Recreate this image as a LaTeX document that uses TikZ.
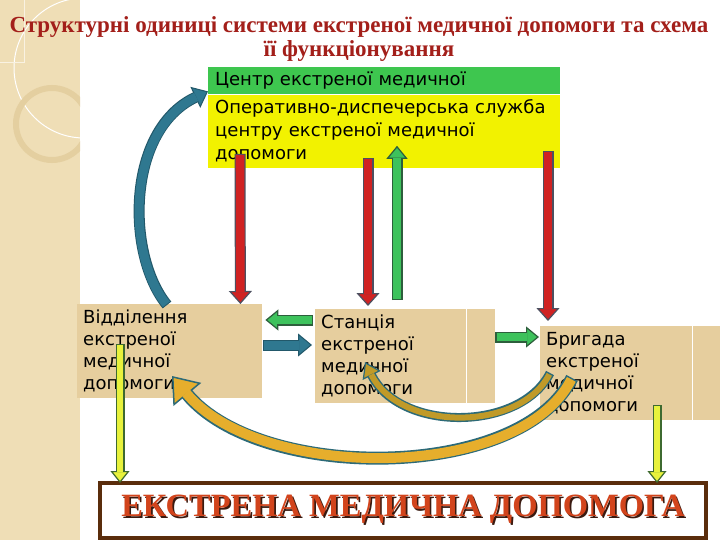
\documentclass[tikz,border=0pt]{standalone}
\usepackage{fontspec}
\setmainfont{DejaVu Sans}
\newfontfamily\titlefont{Liberation Serif}
\usepackage{tikz}
\usetikzlibrary{arrows.meta, positioning}

\definecolor{strip}{HTML}{EFDEB6}
\definecolor{ringc}{HTML}{E4CFA0}
\definecolor{titlered}{HTML}{A31F1A}
\definecolor{hdrgreen}{HTML}{3EC64F}
\definecolor{opsyellow}{HTML}{F2F200}
\definecolor{papyrus}{HTML}{E6CE9E}
\definecolor{redfill}{HTML}{D02222}
\definecolor{redge}{HTML}{4C5060}
\definecolor{greenfill}{HTML}{3DC25C}
\definecolor{greenedge}{HTML}{2D5E3C}
\definecolor{tealfill}{HTML}{2F7890}
\definecolor{tealedge}{HTML}{22586A}
\definecolor{yellowfill}{HTML}{E8F23C}
\definecolor{yellowedge}{HTML}{3E6A30}
\definecolor{goldfill}{HTML}{E6AE2C}
\definecolor{olivefill}{HTML}{C09A28}
\definecolor{goldedge}{HTML}{2C6A78}
\definecolor{emaborder}{HTML}{5A2D0C}
\definecolor{ematext}{HTML}{D2441C}
\definecolor{emashadow}{HTML}{3A1A10}

\tikzstyle{hdr} =
        [
                fill = hdrgreen,
                text width = 338pt,
                inner xsep = 7pt,
                inner ysep = 0pt,
                minimum height = 27pt,
                align = left,
                font = \fontsize{18}{23}\selectfont
        ]
\tikzstyle{ops} =
        [
                hdr,
                fill = opsyellow,
                minimum height = 73pt
        ]
\tikzstyle{unit} =
        [
                fill = papyrus,
                anchor = north west,
                text width = 168pt,
                inner xsep = 6pt,
                inner ysep = 0pt,
                minimum height = 94pt,
                align = left,
                font = \fontsize{18}{22}\selectfont
        ]
\tikzstyle{ema} =
        [
                draw = emaborder,
                line width = 3.5pt,
                outer sep = 0pt,
                minimum width = 606pt,
                minimum height = 55pt,
                text = ematext,
                font = \titlefont\bfseries\fontsize{32.5}{36}\selectfont
        ]
\tikzstyle{redarrow} =
        [
                draw = redge,
                line width = 11pt,
                -{Triangle[length = 13pt, width = 23pt, fill = redfill, line width = 1.2pt]}
        ]
\tikzstyle{redshaft} =
        [
                draw = redfill,
                line width = 8.6pt,
                shorten > = 12pt,
                shorten < = 1.2pt
        ]
\tikzstyle{greenarrow} =
        [
                draw = greenedge,
                line width = 11pt,
                -{Triangle[length = 13pt, width = 21pt, fill = greenfill, line width = 1.2pt]}
        ]
\tikzstyle{greenshaft} =
        [
                draw = greenfill,
                line width = 8.6pt,
                shorten > = 12pt,
                shorten < = 1.2pt
        ]
\tikzstyle{tealarrow} =
        [
                draw = tealedge,
                line width = 11pt,
                -{Triangle[length = 14pt, width = 23pt, fill = tealfill, line width = 1pt]}
        ]
\tikzstyle{tealshaft} =
        [
                draw = tealfill,
                line width = 9pt,
                shorten > = 13pt,
                shorten < = 1pt
        ]
\tikzstyle{yellowarrow} =
        [
                draw = yellowedge,
                line width = 9pt,
                -{Triangle[length = 12pt, width = 19pt, fill = yellowfill, line width = 1.2pt]}
        ]
\tikzstyle{yellowshaft} =
        [
                draw = yellowfill,
                line width = 6.6pt,
                shorten > = 11pt,
                shorten < = 1.2pt
        ]
\tikzstyle{goldarrow} =
        [
                draw = goldedge,
                line width = 13pt,
                -{Triangle[length = 24pt, width = 36pt, fill = goldfill, line width = 1.5pt]}
        ]
\tikzstyle{goldshaft} =
        [
                draw = goldfill,
                line width = 10pt,
                shorten > = 22pt,
                shorten < = 1.5pt
        ]
\tikzstyle{olivearrow} =
        [
                draw = goldedge,
                line width = 9pt,
                -{Triangle[length = 15pt, width = 20pt, fill = olivefill, line width = 1.2pt]}
        ]
\tikzstyle{oliveshaft} =
        [
                draw = olivefill,
                line width = 6pt,
                shorten > = 14pt,
                shorten < = 1.5pt
        ]

% outline pass, then fill pass
\newcommand{\blockarrow}[3]{\path [#1] #3; \path [#2] #3;}

\begin{document}
\begin{tikzpicture}[x = 1pt, y = -1pt]
        \useasboundingbox (0,0) rectangle (720,540);
        \fill [white] (0,0) rectangle (720,540);
        % left strip
        \fill [strip] (0,0) rectangle (80,540);
        \begin{scope}
                \clip (0,0) rectangle (80,540);
                \draw [white, line width = 1pt] (84,68) circle (70);
                \draw [ringc, line width = 6pt] (52,124) circle (36);
                \draw [white!60!strip, line width = 0.8pt] (0,62) -- (24,62) -- (24,0);
        \end{scope}

        \node [text = titlered, align = center, font = \titlefont\bfseries\fontsize{23}{24}\selectfont] (title) at (359,39)
                {Структурні одиниці системи екстреної медичної допомоги та схема\\її функціонування};

        \node [hdr, anchor = north west] (ctr) at (208,67) {Центр екстреної медичної};
        \node [ops, below = 0pt of ctr] (ops) {Оперативно-диспечерська служба\\центру екстреної медичної\\допомоги};

        \node [unit, text width = 173pt] (dept) at (77,304) {Відділення\\екстреної\\медичної\\допомоги};
        \node [unit] (stat) at (315,309) {Станція\\екстреної\\медичної\\допомоги};
        \node [unit] (brig) at (540,326) {Бригада\\екстреної\\медичної\\допомоги};
        \draw [white, line width = 0.8pt] ([xshift = -29pt]stat.north east) -- ([xshift = -29pt]stat.south east);
        \draw [white, line width = 0.8pt] ([xshift = -28pt]brig.north east) -- ([xshift = -28pt]brig.south east);

        \node [ema] (ema) at (403,510.5)
                {\rlap{\color{emashadow}\raisebox{-1.6pt}{\kern1.6pt ЕКСТРЕНА МЕДИЧНА ДОПОМОГА}}ЕКСТРЕНА МЕДИЧНА ДОПОМОГА};

        \blockarrow{redarrow}{redshaft}{([xshift = 32pt, yshift = 14pt]ops.south west) -- ([xshift = -22pt]dept.north east)}
        \blockarrow{redarrow}{redshaft}{([xshift = 160pt, yshift = 10pt]ops.south west) -- ([xshift = 53pt, yshift = 3pt]stat.north west)}
        \blockarrow{redarrow}{redshaft}{([xshift = 340pt, yshift = 17pt]ops.south west) -- ([xshift = 8pt, yshift = 5pt]brig.north west)}
        \blockarrow{greenarrow}{greenshaft}{([xshift = 82pt, yshift = 9pt]stat.north west) -- ([xshift = 189pt, yshift = 22pt]ops.south west)}
        \blockarrow{greenarrow}{greenshaft}{([xshift = -2pt, yshift = -11pt]stat.north west) -- ([xshift = 3pt, yshift = -16pt]dept.north east)}
        \blockarrow{tealarrow}{tealshaft}{([xshift = 1pt, yshift = -41pt]dept.north east) -- ([xshift = -3pt, yshift = -36pt]stat.north west)}
        \blockarrow{greenarrow}{greenshaft}{([yshift = -28pt]stat.north east) -- ([xshift = -1pt, yshift = -11pt]brig.north west)}
        \blockarrow{yellowarrow}{yellowshaft}{([xshift = 43pt, yshift = -40pt]dept.north west) -- ([xshift = 20pt]ema.north west)}
        \blockarrow{yellowarrow}{yellowshaft}{([xshift = 117pt, yshift = -79pt]brig.north west) -- ([xshift = -49pt]ema.north east)}

        % curved arrows
        \blockarrow{tealarrow}{tealshaft}{([xshift = 90pt, yshift = -1pt]dept.north west) .. controls (126,255) and (126,130) .. ([yshift = 3pt]ctr.south west)}
        \blockarrow{goldarrow}{goldshaft}{([xshift = 32pt, yshift = -52pt]brig.north west) .. controls (520,482) and (260,482) .. ([xshift = 95pt, yshift = -72pt]dept.north west)}
        \blockarrow{olivearrow}{oliveshaft}{([xshift = 10pt, yshift = -47pt]brig.north west) .. controls (520,432) and (400,432) .. ([xshift = 50pt, yshift = -53pt]stat.north west)}
\end{tikzpicture}
\end{document}
